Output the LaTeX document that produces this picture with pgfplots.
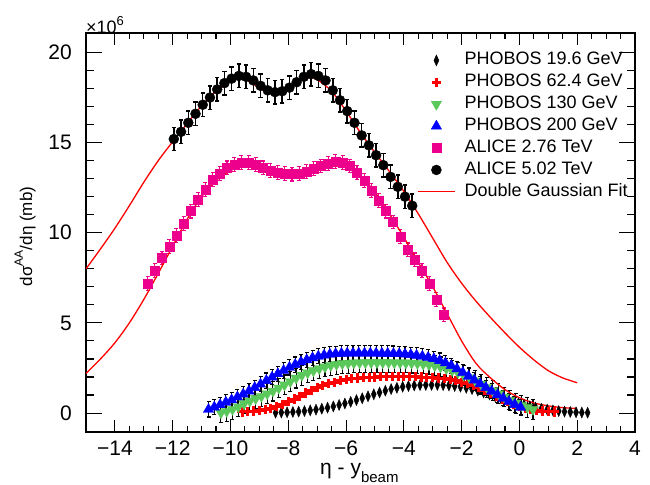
\documentclass[border=0pt]{standalone}
\usepackage{fontspec}
\setmainfont{Liberation Sans}
\usepackage{pgfplots}
\usepackage{pgfplotstable}
\pgfplotsset{compat=1.18}
\definecolor{phgreen}{RGB}{90,200,90}

% PHOBOS 19.6 GeV
\pgfplotstableread{
x y
-8.44 0.02
-8.24 0.03
-8.04 0.04
-7.84 0.06
-7.64 0.08
-7.44 0.11
-7.24 0.15
-7.04 0.19
-6.84 0.24
-6.64 0.30
-6.44 0.37
-6.24 0.45
-6.04 0.53
-5.84 0.62
-5.64 0.72
-5.44 0.82
-5.24 0.93
-5.04 1.04
-4.84 1.14
-4.64 1.24
-4.44 1.33
-4.24 1.40
-4.04 1.46
-3.84 1.50
-3.64 1.53
-3.44 1.55
-3.24 1.56
-3.04 1.56
-2.84 1.56
-2.64 1.55
-2.44 1.53
-2.24 1.50
-2.04 1.46
-1.84 1.40
-1.64 1.33
-1.44 1.24
-1.24 1.14
-1.04 1.04
-0.84 0.93
-0.64 0.82
-0.44 0.72
-0.24 0.62
-0.04 0.53
0.16 0.45
0.36 0.37
0.56 0.30
0.76 0.24
0.96 0.19
1.16 0.15
1.36 0.11
1.56 0.08
1.76 0.06
1.96 0.04
2.16 0.03
2.36 0.02
}\phobosA

% PHOBOS 62.4 GeV
\pgfplotstableread{
x y
-9.6 0.06
-9.4 0.08
-9.2 0.11
-9.0 0.15
-8.8 0.20
-8.6 0.27
-8.4 0.36
-8.2 0.48
-8.0 0.62
-7.8 0.78
-7.6 0.94
-7.4 1.11
-7.2 1.27
-7.0 1.40
-6.8 1.52
-6.6 1.62
-6.4 1.71
-6.2 1.79
-6.0 1.85
-5.8 1.90
-5.6 1.94
-5.4 1.97
-5.2 1.99
-5.0 2.00
-4.8 2.01
-4.6 2.02
-4.4 2.02
-4.2 2.02
-4.0 2.02
-3.8 2.02
-3.6 2.01
-3.4 2.00
-3.2 1.99
-3.0 1.97
-2.8 1.94
-2.6 1.90
-2.4 1.85
-2.2 1.79
-2.0 1.71
-1.8 1.62
-1.6 1.52
-1.4 1.40
-1.2 1.27
-1.0 1.11
-0.8 0.94
-0.6 0.78
-0.4 0.62
-0.2 0.48
0.0 0.36
0.2 0.27
0.4 0.20
0.6 0.15
0.8 0.11
1.0 0.08
1.2 0.06
}\phobosB

% PHOBOS 130 GeV
\pgfplotstableread{
x y
-10.33 0.02
-10.13 0.10
-9.93 0.21
-9.73 0.35
-9.53 0.52
-9.33 0.67
-9.13 0.80
-8.93 0.93
-8.73 1.07
-8.53 1.22
-8.33 1.39
-8.13 1.56
-7.93 1.75
-7.73 1.94
-7.53 2.10
-7.33 2.23
-7.13 2.35
-6.93 2.46
-6.73 2.56
-6.53 2.64
-6.33 2.70
-6.13 2.74
-5.93 2.76
-5.73 2.78
-5.53 2.79
-5.33 2.80
-5.13 2.80
-4.93 2.80
-4.73 2.80
-4.53 2.80
-4.33 2.79
-4.13 2.79
-3.93 2.78
-3.73 2.77
-3.53 2.75
-3.33 2.72
-3.13 2.68
-2.93 2.63
-2.73 2.56
-2.53 2.47
-2.33 2.36
-2.13 2.24
-1.93 2.10
-1.73 1.96
-1.53 1.79
-1.33 1.61
-1.13 1.43
-0.93 1.25
-0.73 1.07
-0.53 0.89
-0.33 0.71
-0.13 0.55
0.07 0.42
0.27 0.31
0.47 0.21
}\phobosC

% PHOBOS 200 GeV
\pgfplotstableread{
x y
-10.76 0.20
-10.56 0.33
-10.36 0.46
-10.16 0.60
-9.96 0.73
-9.76 0.89
-9.56 1.05
-9.36 1.22
-9.16 1.41
-8.96 1.60
-8.76 1.80
-8.56 1.99
-8.36 2.18
-8.16 2.36
-7.96 2.53
-7.76 2.69
-7.56 2.83
-7.36 2.95
-7.16 3.06
-6.96 3.15
-6.76 3.21
-6.56 3.26
-6.36 3.29
-6.16 3.31
-5.96 3.32
-5.76 3.32
-5.56 3.32
-5.36 3.32
-5.16 3.32
-4.96 3.32
-4.76 3.31
-4.56 3.31
-4.36 3.30
-4.16 3.29
-3.96 3.27
-3.76 3.24
-3.56 3.20
-3.36 3.15
-3.16 3.09
-2.96 3.01
-2.76 2.91
-2.56 2.78
-2.36 2.63
-2.16 2.45
-1.96 2.25
-1.76 2.04
-1.56 1.83
-1.36 1.62
-1.16 1.41
-0.96 1.21
-0.76 1.01
-0.56 0.82
-0.36 0.64
-0.16 0.47
0.04 0.32
}\phobosD

% ALICE 2.76 TeV
\pgfplotstableread{
x y
-12.87 7.20
-12.62 7.90
-12.37 8.60
-12.12 9.25
-11.87 9.85
-11.62 10.50
-11.37 11.20
-11.12 11.85
-10.87 12.40
-10.62 12.95
-10.37 13.30
-10.12 13.60
-9.87 13.80
-9.62 13.90
-9.37 13.90
-9.12 13.80
-8.87 13.60
-8.62 13.45
-8.37 13.35
-8.12 13.30
-7.87 13.25
-7.62 13.30
-7.37 13.40
-7.12 13.55
-6.87 13.70
-6.62 13.85
-6.37 13.95
-6.12 13.90
-5.87 13.70
-5.62 13.35
-5.37 12.90
-5.12 12.35
-4.87 11.80
-4.62 11.20
-4.37 10.60
-4.12 9.80
-3.87 9.05
-3.62 8.50
-3.37 7.90
-3.12 7.20
-2.87 6.30
-2.62 5.45
}\aliceA

% ALICE 5.02 TeV
\pgfplotstableread{
x y
-11.96 15.20
-11.71 15.60
-11.46 16.10
-11.21 16.60
-10.96 17.10
-10.71 17.50
-10.46 17.95
-10.21 18.30
-9.96 18.55
-9.71 18.70
-9.46 18.65
-9.21 18.45
-8.96 18.15
-8.71 17.90
-8.46 17.80
-8.21 17.85
-7.96 18.05
-7.71 18.35
-7.46 18.65
-7.21 18.80
-6.96 18.70
-6.71 18.45
-6.46 17.90
-6.21 17.35
-5.96 16.75
-5.71 16.10
-5.46 15.40
-5.21 14.85
-4.96 14.30
-4.71 13.75
-4.46 13.10
-4.21 12.55
-3.96 12.00
-3.71 11.50
}\aliceB

\begin{document}
\begin{tikzpicture}
\begin{axis}[
  scale only axis,
  width=549bp, height=399bp,
  xmin=-15, xmax=4,
  ymin=-1.05, ymax=21.08,
  xtick={-14,-12,-10,-8,-6,-4,-2,0,2,4},
  xticklabels={−14,−12,−10,−8,−6,−4,−2,0,2,4},
  ytick={0,5,10,15,20},
  yticklabels={0,5,10,15,20},
  minor x tick num=3,
  minor y tick num=4,
  tick align=inside,
  axis line style={line width=1.3bp},
  every tick/.style={black, line width=1.1bp},
  major tick length=14bp,
  minor tick length=7bp,
  xtick style={/pgfplots/major tick length=12bp, /pgfplots/minor tick length=6bp},
  ytick style={/pgfplots/major tick length=16bp, /pgfplots/minor tick length=8bp},
  tick label style={font=\fontsize{21bp}{24bp}\selectfont, inner sep=0pt},
  xticklabel style={anchor=base, yshift=-23bp},
  yticklabel style={anchor=east, xshift=-14bp},
  xlabel={η - y\raisebox{-8bp}{\fontsize{15bp}{15bp}\selectfont beam}},
  xlabel style={at={(axis description cs:0.4262,-0.1053)}, anchor=base west,
    font=\fontsize{21bp}{24bp}\selectfont, inner sep=0pt},
  ylabel={dσ\raisebox{0.55em}{\fontsize{12bp}{12bp}\selectfont AA}/dη (mb)},
  ylabel style={at={(axis description cs:-0.111,0.49)}, anchor=center,
    font=\fontsize{17bp}{20bp}\selectfont, inner sep=0pt},
  legend style={draw=none, fill=none, at={(0.603,0.953)}, anchor=north west,
    inner sep=0pt, font=\fontsize{18bp}{21.9bp}\selectfont, row sep=4.9bp,
    nodes={inner sep=0pt, text height=13bp, text depth=4bp},
    /tikz/every odd column/.style={column sep=9bp}},
  legend cell align=left,
  legend image code/.code={
    \draw[mark repeat=2,mark phase=2,#1] plot coordinates {(0bp,0bp) (18.5bp,0bp) (37bp,0bp)};},
]
\addplot[only marks, black, mark=diamond*, mark size=5.5bp,
  mark options={xscale=0.6, fill=black, draw=black}] table {\phobosA};
\addlegendentry{PHOBOS 19.6 GeV}

\addplot[only marks, red, mark=+, mark size=4.6bp,
  mark options={line width=3bp}] table {\phobosB};
\addlegendentry{PHOBOS 62.4 GeV}

\addplot[only marks, phgreen, mark=triangle*, mark size=6bp,
  mark options={rotate=180, fill=phgreen, draw=phgreen},
  error bars/.cd, y dir=both, y fixed=0.55,
  error bar style={black, line width=1.1bp},
  error mark options={rotate=90, black, mark size=2bp, line width=1.1bp}] table {\phobosC};
\addlegendentry{PHOBOS 130 GeV}

\addplot[only marks, blue, mark=triangle*, mark size=6bp,
  mark options={fill=blue, draw=blue},
  error bars/.cd, y dir=both, y fixed=0.42,
  error bar style={black, line width=1.1bp},
  error mark options={rotate=90, black, mark size=2bp, line width=1.1bp}] table {\phobosD};
\addlegendentry{PHOBOS 200 GeV}

\addplot[only marks, magenta, mark=square*, mark size=4.5bp,
  mark options={fill=magenta, draw=magenta},
  error bars/.cd, y dir=both, y fixed=0.38,
  error bar style={magenta, line width=1.1bp},
  error mark options={rotate=90, magenta, mark size=2bp, line width=1.1bp}] table {\aliceA};
\addlegendentry{ALICE 2.76 TeV}

\addplot[only marks, black, mark=*, mark size=5bp,
  mark options={fill=black, draw=black},
  error bars/.cd, y dir=both, y fixed=0.65,
  error bar style={black, line width=1.5bp},
  error mark options={rotate=90, black, mark size=2.2bp, line width=1.5bp}] table {\aliceB};
\addlegendentry{ALICE 5.02 TeV}

% double gaussian fits
\addplot[red, line width=1.3bp, smooth, no marks] coordinates {
(-15,8.0) (-14.5,9.1) (-14,10.25) (-13.5,11.5) (-13,12.8) (-12.5,14.0)
(-12,15.05) (-11.5,16.05) (-11,17.05) (-10.5,17.85) (-10,18.4) (-9.75,18.55)
(-9.5,18.5) (-9.25,18.3) (-9,18.02) (-8.75,17.8) (-8.5,17.73) (-8.25,17.8)
(-8,18.02) (-7.75,18.3) (-7.5,18.52) (-7.25,18.6) (-7,18.5) (-6.5,17.85)
(-6,16.75) (-5.5,15.55) (-5,14.45) (-4.5,13.4) (-4,12.3) (-3.5,11.05)
(-3,9.7) (-2.5,8.35) (-2,7.2) (-1.5,6.2) (-1,5.3) (-0.5,4.45) (0,3.65)
(0.5,2.95) (1,2.35) (1.5,1.95) (2,1.68)};
\addlegendentry{Double Gaussian Fit}

\addplot[red, line width=1.3bp, smooth, no marks, forget plot] coordinates {
(-15,2.2) (-14.5,3.0) (-14,3.9) (-13.5,5.0) (-13,6.3) (-12.5,7.75)
(-12,9.25) (-11.5,10.75) (-11,12.0) (-10.5,12.9) (-10,13.45) (-9.5,13.7)
(-9,13.62) (-8.5,13.4) (-8,13.25) (-7.5,13.32) (-7,13.52) (-6.5,13.68)
(-6.25,13.7) (-6,13.6) (-5.5,13.15) (-5,12.25) (-4.5,11.05) (-4,9.75)
(-3.5,8.35) (-3,7.0) (-2.5,5.5) (-2,4.0) (-1.5,2.75) (-1,1.95) (-0.5,1.3)
(0,0.85) (0.5,0.56) (1,0.4) (1.5,0.3) (2,0.26)};
\end{axis}
\node[anchor=base west, inner sep=0pt, font=\fontsize{18bp}{20bp}\selectfont]
  at ([yshift=-1bp]current axis.north west) {×10\raisebox{0.45em}{\fontsize{13bp}{13bp}\selectfont 6}};
\pgfresetboundingbox
\path[use as bounding box] ([shift={(-86bp,-53bp)}]current axis.south west)
  rectangle ([shift={(15bp,33bp)}]current axis.north east);
\end{tikzpicture}
\end{document}
